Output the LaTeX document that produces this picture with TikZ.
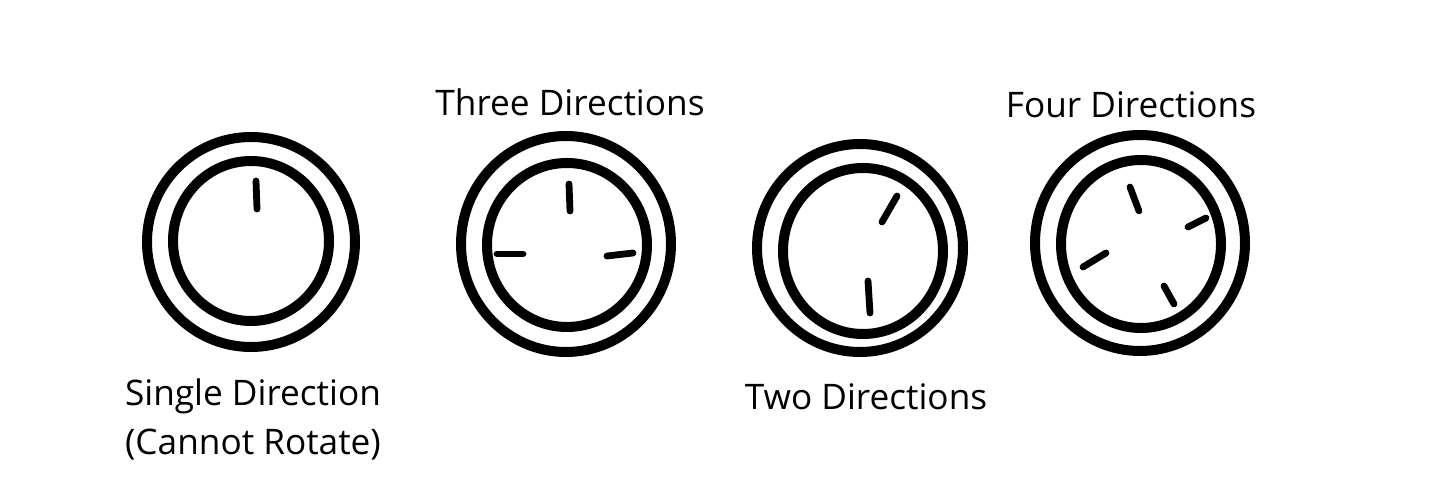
\documentclass[tikz,border=0pt]{standalone}
\usepackage{fontspec}
\setmainfont{Open Sans}

\begin{document}
\begin{tikzpicture}[x=0.5pt, y=-0.5pt, line width=5pt, font=\fontsize{17.6}{20}\selectfont]
    \useasboundingbox (0,0) rectangle (1435,501);
    \tikzset{tick/.style={line width=3.4pt, line cap=round}}
    % single direction
    \draw (251,242) ellipse (104 and 105);
    \draw (251,241) ellipse (78 and 80);
    \draw[tick] (256,181) -- (257,209);
    \node[anchor=base] (singlelabel) at (253,406) {Single Direction};
    \node[anchor=base] (singlenote) at (253,455) {(Cannot Rotate)};
    % three directions
    \draw (566,244) ellipse (105 and 108);
    \draw (567,245) ellipse (80 and 82);
    \draw[tick] (569,184) -- (570,211);
    \draw[tick] (497,254) -- (523,254);
    \draw[tick] (607,256) -- (633,253);
    \node[anchor=base] (threelabel) at (570,116) {Three Directions};
    % two directions
    \draw (860,248) ellipse (103 and 104);
    \draw (863,251) ellipse (80 and 83);
    \draw[tick] (897,196) -- (882,222);
    \draw[tick] (868,281) -- (870,313);
    \node[anchor=base] (twolabel) at (866,410) {Two Directions};
    % four directions
    \draw (1140,243) ellipse (105 and 108);
    \draw (1141,244) ellipse (80 and 84);
    \draw[tick] (1130,187) -- (1139,211);
    \draw[tick] (1188,227) -- (1206,218);
    \draw[tick] (1083,267) -- (1106,253);
    \draw[tick] (1164,286) -- (1174,304);
    \node[anchor=base] (fourlabel) at (1131,118) {Four Directions};
\end{tikzpicture}
\end{document}
